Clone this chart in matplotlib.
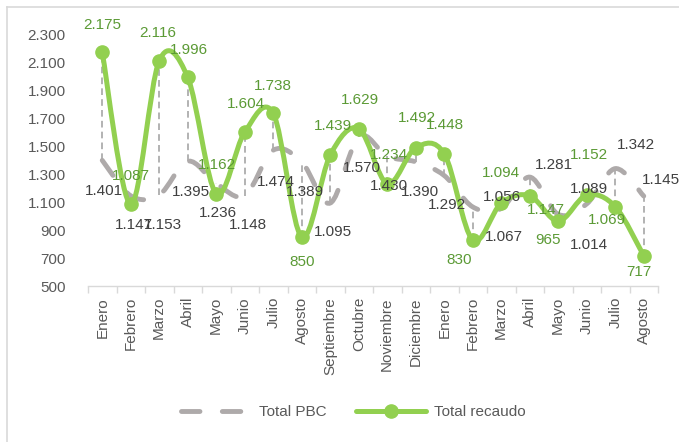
import numpy as np
import matplotlib
matplotlib.use('Agg')
import matplotlib.pyplot as plt
from matplotlib.path import Path
from matplotlib.patches import PathPatch
from matplotlib.lines import Line2D
from matplotlib.ticker import FuncFormatter

plt.rcParams['font.family'] = ['Liberation Sans', 'DejaVu Sans']

# --- Datos ---
meses = ['Enero', 'Febrero', 'Marzo', 'Abril', 'Mayo', 'Junio', 'Julio', 'Agosto',
         'Septiembre', 'Octubre', 'Noviembre', 'Diciembre',
         'Enero', 'Febrero', 'Marzo', 'Abril', 'Mayo', 'Junio', 'Julio', 'Agosto']
total_pbc = [1401, 1147, 1153, 1395, 1236, 1148, 1474, 1389, 1095, 1570, 1430, 1390,
             1292, 1067, 1056, 1281, 1014, 1089, 1342, 1145]
total_recaudo = [2175, 1087, 2116, 1996, 1162, 1604, 1738, 850, 1439, 1629, 1234, 1492,
                 1448, 830, 1094, 1147, 965, 1152, 1069, 717]

# desplazamiento de etiquetas (pixeles)
off_recaudo = [(0, 27), (0, 28), (-1, 28), (1, 27), (1, 29), (1, 28), (0, 27), (0, -25),
               (3, 29), (1, 29), (2, 29), (1, 30), (1, 29), (-14, -20), (0, 30), (16, -14),
               (-10, -19), (2, 40), (-8, -13), (-5, -16)]
off_pbc = [(2, -31), (3, -29), (4, -30), (3, -31), (2, -30), (3, -29), (3, -32), (3, -30),
           (3, -29), (3, -31), (2, -30), (4, -30), (3, -29), (31, -30), (1, 11), (24, 12),
           (31, -31), (2, 15), (21, 24), (17, 16)]

VERDE = '#92D050'
VERDE_TXT = '#5B9A35'
GRIS = '#AEAAAA'
GRIS_TXT = '#404040'
EJE_TXT = '#595959'


def fmt(v):
    return f'{int(v):,}'.replace(',', '.')


def smooth_path(x, y):
    """Curva suavizada tipo Excel (Catmull-Rom en Bezier)"""
    pts = np.column_stack([x, y]).astype(float)
    ext = np.vstack([pts[0], pts, pts[-1]])
    verts = [pts[0]]
    codes = [Path.MOVETO]
    for i in range(1, len(ext) - 2):
        p0, p1, p2, p3 = ext[i - 1], ext[i], ext[i + 1], ext[i + 2]
        verts += [p1 + (p2 - p0) / 6, p2 - (p3 - p1) / 6, p2]
        codes += [Path.CURVE4] * 3
    return Path(verts, codes)


fig = plt.figure(figsize=(6.79, 4.42), dpi=100)
ax = fig.add_axes([88 / 679, 1 - 286 / 442, 570 / 679, 251 / 442])

x = np.arange(len(meses))

# lineas max-min
ax.vlines(x, np.minimum(total_pbc, total_recaudo), np.maximum(total_pbc, total_recaudo),
          colors='#A6A6A6', linewidth=1.2, linestyles=(0, (4, 2.5)), zorder=1)

dash = (0, (3.8, 4.6))
ax.add_patch(PathPatch(smooth_path(x, total_pbc), fill=False, edgecolor=GRIS, linewidth=3.5,
                       linestyle=dash, capstyle='round', zorder=2))
ax.add_patch(PathPatch(smooth_path(x, total_recaudo), fill=False, edgecolor=VERDE, linewidth=3.6,
                       capstyle='round', joinstyle='round', zorder=3))
ax.plot(x, total_recaudo, 'o', color=VERDE, markersize=9.5, zorder=4)

for xi, v, (dx, dy) in zip(x, total_pbc, off_pbc):
    ax.annotate(fmt(v), (xi, v), xytext=(dx, dy), textcoords='offset pixels',
                ha='center', va='center', fontsize=11, color=GRIS_TXT, zorder=5)
for xi, v, (dx, dy) in zip(x, total_recaudo, off_recaudo):
    ax.annotate(fmt(v), (xi, v), xytext=(dx, dy), textcoords='offset pixels',
                ha='center', va='center', fontsize=11, color=VERDE_TXT, zorder=5)

ax.set_xlim(-0.5, len(meses) - 0.5)
ax.set_ylim(500, 2300)
ax.set_yticks(np.arange(500, 2301, 200))
ax.yaxis.set_major_formatter(FuncFormatter(lambda v, p: fmt(v)))
ax.tick_params(axis='y', length=0, pad=16, labelsize=11, labelcolor=EJE_TXT)

ax.set_xticks(x, meses, rotation=90)
ax.tick_params(axis='x', which='major', length=0, pad=8, labelsize=11, labelcolor=EJE_TXT)
ax.set_xticks(np.arange(-0.5, len(meses), 1), minor=True)
ax.tick_params(axis='x', which='minor', length=5, width=1, color='#D9D9D9')

for s in ['top', 'right', 'left']:
    ax.spines[s].set_visible(False)
ax.spines['bottom'].set_color('#D9D9D9')
ax.spines['bottom'].set_linewidth(1)
ax.patch.set_alpha(0)

handles = [Line2D([], [], color=GRIS, linewidth=3.5, linestyle=dash, dash_capstyle='round'),
           Line2D([], [], color=VERDE, linewidth=3.6, marker='o', markersize=9.5,
                  solid_capstyle='round')]
fig.legend(handles, ['Total PBC', 'Total recaudo'], loc='center',
           bbox_to_anchor=(0.5 + 14 / 679, 1 - 412 / 442),
           ncol=2, frameon=False, fontsize=11, labelcolor=EJE_TXT, handlelength=4.6,
           columnspacing=1.9, handletextpad=0.5)

# borde del area del grafico
fig.add_artist(Line2D([7 / 679, 1], [1 - 7 / 442, 1 - 7 / 442], color='#D9D9D9', linewidth=1.2))
fig.add_artist(Line2D([7 / 679, 7 / 679], [0, 1 - 7 / 442], color='#D9D9D9', linewidth=1.2))

fig.savefig('out.png', dpi=100)
